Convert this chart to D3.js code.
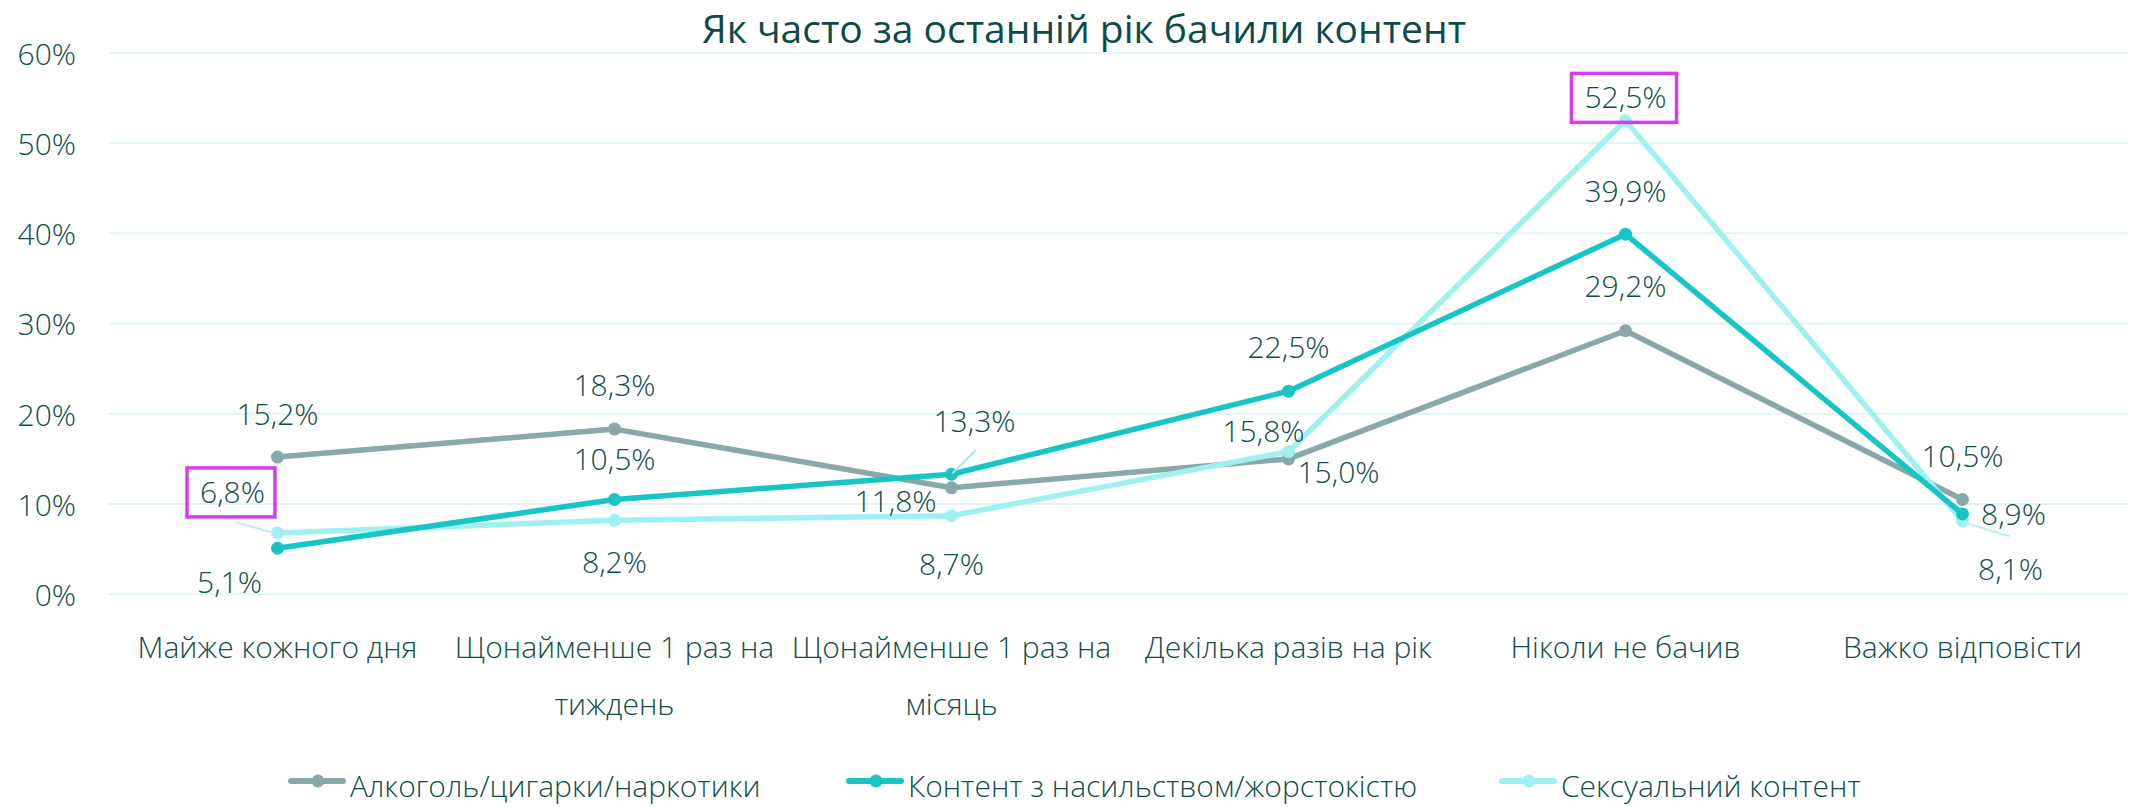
<!DOCTYPE html>
<html><head><meta charset="utf-8">
<script src="https://cdn.jsdelivr.net/npm/d3@7"></script>
<style>
html,body{margin:0;padding:0;background:#fff;}
text{font-family:"Open Sans","Segoe UI",sans-serif;}
</style></head>
<body>
<svg id="c" width="2134" height="807"></svg>
<script>
const title = "Як часто за останній рік бачили контент";
const categories = ["Майже кожного дня","Щонайменше 1 раз на тиждень","Щонайменше 1 раз на місяць","Декілька разів на рік","Ніколи не бачив","Важко відповісти"];
const seriesNames = ["Алкоголь/цигарки/наркотики","Контент з насильством/жорстокістю","Сексуальний контент"];
const alcohol = [15.2,18.3,11.8,15.0,29.2,10.5];
const violence = [5.1,10.5,13.3,22.5,39.9,8.9];
const sexual = [6.8,8.2,8.7,15.8,52.5,8.1];
const yTicks = [0,10,20,30,40,50,60];

const colors = ["#88a8a9","#17c5c5","#9ff1f1"];
const textColor = "#0e4e4b";
const fw = 350;
// label placement offsets [dx, dy] relative to point
const labelOffsets = [
  [[0,-32],[0,-33],[-56,24],[50,24],[0,-34],[0,-33]],
  [[-48,45],[0,-30],[23,-42],[0,-33],[0,-32],[51,11]],
  [[-45,-30],[0,53],[0,59],[-25,-10],[0,-12],[48,59]]
];

const svg = d3.select("#c");
const pLeft = 109, pRight = 2131, pTop = 52.7, pBottom = 594.3;
const x = d3.scaleBand().domain(categories).range([pLeft,pRight]).padding(0);
const y = d3.scaleLinear().domain([0,60]).range([pBottom,pTop]);
const fmt = v => v.toFixed(1).replace(".",",")+"%";

// grid
svg.append("g").selectAll("line").data(yTicks).join("line")
  .attr("x1",pLeft).attr("x2",pRight-3)
  .attr("y1",d=>y(d)).attr("y2",d=>y(d))
  .attr("stroke","#e2f3f4").attr("stroke-width",2);

// y axis
const yAxis = d3.axisLeft(y).tickValues(yTicks).tickFormat(d=>d+"%").tickSize(0).tickPadding(0);
const ga = svg.append("g").attr("transform","translate(76,0)").call(yAxis);
ga.select(".domain").remove();
ga.selectAll("text").attr("font-size",30).attr("font-weight",fw).attr("fill",textColor)
  .attr("font-family","'Open Sans',sans-serif").attr("dy","0.38em");

// title
svg.append("text").attr("x",1084).attr("y",43).attr("text-anchor","middle")
  .attr("font-size",39).attr("font-weight",400).attr("fill","#0d4b48").text(title);

// x labels
const xl = svg.append("g");
categories.forEach(c=>{
  const t = xl.append("text").attr("x",x(c)+x.bandwidth()/2).attr("y",658)
    .attr("text-anchor","middle").attr("font-size",30).attr("font-weight",fw).attr("fill",textColor);
  const words = c.split(" ");
  let line = [], lines=[];
  const tmp = t.append("tspan");
  words.forEach(w=>{
    line.push(w);
    tmp.text(line.join(" "));
    if (tmp.node().getComputedTextLength() > x.bandwidth()-8 && line.length>1){
      line.pop(); lines.push(line.join(" ")); line=[w];
    }
  });
  lines.push(line.join(" "));
  tmp.remove();
  lines.forEach((l,i)=>{
    t.append("tspan").attr("x",x(c)+x.bandwidth()/2).attr("y",658+57*i).text(l);
  });
});

const series = [alcohol, violence, sexual];
const cx = c => x(c)+x.bandwidth()/2;
const lineGen = d3.line().x((d,i)=>cx(categories[i])).y(d=>y(d));

const order = [0,2,1];
order.forEach(si=>{
  const g = svg.append("g");
  g.append("path").datum(series[si]).attr("d",lineGen).attr("fill","none")
    .attr("stroke",colors[si]).attr("stroke-width",5.5).attr("stroke-linejoin","round");
  g.selectAll("circle").data(series[si]).join("circle")
    .attr("cx",(d,i)=>cx(categories[i])).attr("cy",d=>y(d)).attr("r",6.5)
    .attr("fill",colors[si]);
});

// leader lines
const leaders = [
  {s:1,i:2,from:[24,-24],to:[1,-1]},
  {s:2,i:0,from:[-42,-11],to:[-4,0]},
  {s:2,i:5,from:[4,2],to:[47,15]}
];
leaders.forEach(L=>{
  const px = cx(categories[L.i]), py = y(series[L.s][L.i]);
  svg.append("line").attr("x1",px+L.from[0]).attr("y1",py+L.from[1])
    .attr("x2",px+L.to[0]).attr("y2",py+L.to[1])
    .attr("stroke",L.s===1?"#a6e6e6":"#bdeeee").attr("stroke-width",2);
});

// labels
const boxed = [[2,0],[2,4]];
series.forEach((s,si)=>{
  s.forEach((v,i)=>{
    const px = cx(categories[i]), py = y(v);
    const o = labelOffsets[si][i];
    const t = svg.append("text").attr("x",px+o[0]).attr("y",py+o[1])
      .attr("text-anchor","middle").attr("font-size",30).attr("font-weight",fw)
      .attr("fill",textColor).text(fmt(v));
    if (boxed.some(b=>b[0]===si&&b[1]===i)){
      const bb = t.node().getBBox();
      svg.append("rect").attr("x",bb.x-13).attr("y",bb.y-3).attr("width",bb.width+23).attr("height",bb.height+8)
        .attr("fill","none").attr("stroke","#d63cf0").attr("stroke-width",3.5);
    }
  });
});

// legend
const legX = [291,849,1502];
const lg = svg.append("g");
seriesNames.forEach((n,i)=>{
  lg.append("line").attr("x1",legX[i]).attr("x2",legX[i]+52).attr("y1",781).attr("y2",781)
    .attr("stroke",colors[i]).attr("stroke-width",6).attr("stroke-linecap","round");
  lg.append("circle").attr("cx",legX[i]+27).attr("cy",781).attr("r",6.5).attr("fill",colors[i]);
  lg.append("text").attr("x",legX[i]+59).attr("y",797).attr("font-size",30).attr("font-weight",fw)
    .attr("fill",textColor).text(n);
});
</script>
</body></html>
